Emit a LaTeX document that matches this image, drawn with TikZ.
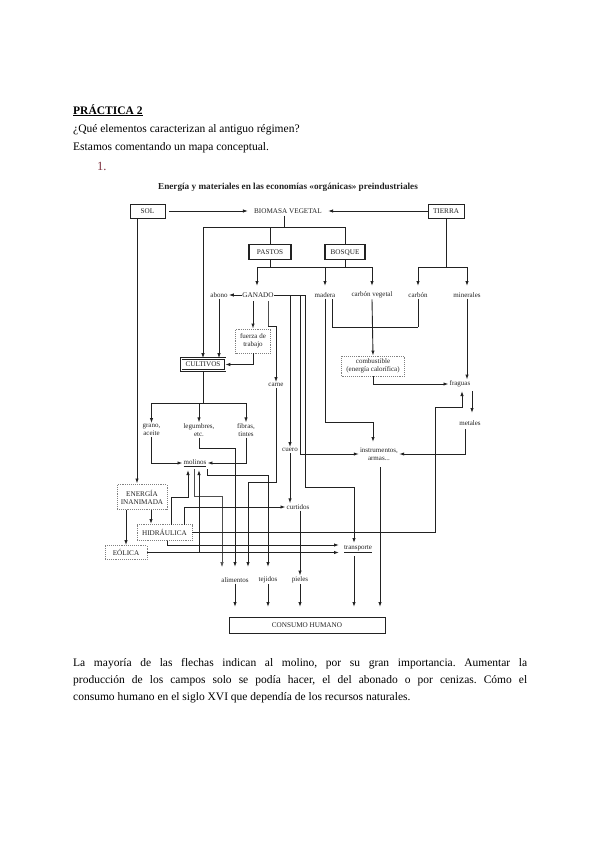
\documentclass[tikz,border=0pt]{standalone}
\usepackage{fontspec}
\setmainfont{Liberation Serif}
\usetikzlibrary{arrows.meta}
\definecolor{numred}{HTML}{7B2D3B}
\definecolor{ink}{HTML}{222222}
\frenchspacing
\begin{document}
\begin{tikzpicture}[x=1pt,y=-1pt,
  body/.style={font=\fontsize{11.5}{13}\selectfont, inner sep=0pt, anchor=base west},
  lbl/.style={font=\fontsize{7}{7.8}\selectfont, inner sep=1pt, align=center, text=ink},
  capl/.style={font=\fontsize{7.2}{8}\selectfont, inner sep=0pt, align=center, text=ink},
  sbox/.style={capl, draw=ink, line width=0.7pt, minimum height=14pt, text height=5pt, text depth=0.6pt},
  tbox/.style={capl, draw=ink, line width=1.4pt, minimum height=15pt, text height=5pt, text depth=0.6pt},
  dbox/.style={capl, draw=gray, line width=0.8pt, dash pattern=on 0.8pt off 1.1pt},
  ln/.style={draw=ink, line width=0.9pt},
  thinl/.style={draw=ink!80, line width=0.5pt},
  arr/.style={ln, -{Latex[length=5pt,width=3.4pt]}},
  tarr/.style={thinl, -{Latex[length=5pt,width=3.4pt]}}
]
\useasboundingbox (0,0) rectangle (600,848);

% ---------- header text ----------
\node[body] (h1) at (73,114) {\underline{\textbf{PRÁCTICA 2}}};
\node[body] (h2) at (73,132) {¿Qué elementos caracterizan al antiguo régimen?};
\node[body] (h3) at (73,150) {Estamos comentando un mapa conceptual.};
\node[body, font=\fontsize{12.5}{14}\selectfont, text=numred] (h4) at (97,170) {1.};

% ---------- diagram title ----------
\node[font=\fontsize{9.2}{10}\bfseries\selectfont, inner sep=0pt, text=ink] (title) at (288,187)
  {Energía y materiales en las economías «orgánicas» preindustriales};

% ---------- nodes ----------
\node[sbox, minimum width=35pt] (sol) at (147.5,211) {SOL};
\node[sbox, minimum width=36pt] (tierra) at (446,211) {TIERRA};
\node[capl] (biomasa) at (288,211) {BIOMASA VEGETAL};
\node[tbox, minimum width=42pt] (pastos) at (270,252) {PASTOS};
\node[tbox, minimum width=40pt] (bosque) at (345,252) {BOSQUE};

\node[lbl] (abono) at (219,295) {abono};
\node[capl] (ganado) at (258,295) {GANADO};
\node[lbl] (madera) at (325,295) {madera};
\node[lbl] (carbveg) at (372,295) {carbón vegetal};
\node[lbl] (carbon) at (418,295) {carbón};
\node[lbl] (minerales) at (467,295) {minerales};

\node[dbox, font=\fontsize{7}{7.8}\selectfont, minimum width=35pt, minimum height=24pt] (fuerza) at (253,341) {fuerza de\\trabajo};
\node[capl, draw=ink, line width=0.6pt, double, double distance=0.9pt, minimum width=44pt, minimum height=12pt, text height=5pt, text depth=0.6pt] (cultivos) at (203,364.5) {CULTIVOS};
\node[lbl] (carne) at (276,385) {carne};
\node[dbox, font=\fontsize{7}{7.8}\selectfont, minimum width=63pt, minimum height=20pt] (combust) at (373,366) {combustible\\(energía calorífica)};
\node[lbl] (fraguas) at (460,384) {fraguas};
\node[lbl] (metales) at (470,423) {metales};

\node[lbl] (grano) at (151.5,430) {grano,\\aceite};
\node[lbl] (legumbres) at (199,430) {legumbres,\\etc.};
\node[lbl] (fibras) at (246,430) {fibras,\\tintes};
\node[lbl] (instr) at (379,454) {instrumentos,\\armas...};
\node[lbl] (cuero) at (290,450) {cuero};
\node[lbl] (molinos) at (195,463) {\underline{molinos}};

\node[dbox, minimum width=50pt, minimum height=25pt] (energia) at (142,497) {ENERGÍA\\INANIMADA};
\node[lbl] (curtidos) at (298,507) {curtidos};
\node[dbox, minimum width=55pt, minimum height=16pt] (hidraulica) at (164.5,532.5) {HIDRÁULICA};
\node[lbl] (transporte) at (358,549) {\underline{transporte}};
\node[dbox, minimum width=42pt, minimum height=14pt] (eolica) at (126,552.5) {EÓLICA};

\node[lbl] (alimentos) at (235,580) {alimentos};
\node[lbl] (tejidos) at (268,580) {tejidos};
\node[lbl] (pieles) at (300,580) {pieles};
\node[sbox, minimum width=156pt, minimum height=16pt] (consumo) at (307,625) {CONSUMO HUMANO};

% ---------- connectors: top ----------
\draw[arr, shorten <=4pt, shorten >=6pt] (sol) -- (biomasa);
\draw[arr, shorten >=6pt] (tierra) -- (biomasa);
\draw[ln] (284,215.5) -- (284,227);
\draw[ln] (203,227) -- (346,227);
\draw[arr] (203,227) -- (cultivos.north);
\draw[ln] (270,227) -- (pastos.north);
\draw[ln] (345,227) -- (bosque.north);
\draw[ln] (pastos.south) -- (270,267);
\draw[ln] (bosque.south) -- (345,267);
\draw[ln] (257,267) -- (372,267);
\draw[arr] (257,267) -- (257,286);
\draw[arr] (325,267) -- (325,286);
\draw[arr] (372,267) -- (372,286);
\draw[ln] (tierra.south) -- (446,267);
\draw[ln] (418,267) -- (467,267);
\draw[arr] (418,267) -- (418,286);
\draw[arr] (467,267) -- (467,286);

% ---------- ganado ----------
\draw[arr] (ganado) -- (abono);
\draw[ln] (ganado.east) -- (305,295);
\draw[arr] (abono.south) -- (abono |- cultivos.north);
\draw[arr] (253,301) -- (fuerza.north);
\draw[thinl] (268,301) -- (268,326);
\draw[arr] (268,326) -- (276,326) -- (carne.north);
\draw[arr] (fuerza.south) |- (cultivos.east);
\draw[arr] (290,295) -- (cuero.north);
\draw[arr] (300,295) |- (instr.west);
\draw[arr] (305,295) -- (305,487) -| (354,543);
\draw[arr] (carne.south) -- (276,482) -| (248,567);

% ---------- wood / coal ----------
\draw[arr] (madera.south) |- (373,422) -- (373,442);
\draw[ln] (332,299) |- (418,327);
\draw[ln] (carbon.south) -- (418,327);
\draw[arr] (carbveg.south) -- (combust.north);
\draw[arr] (combust.south) |- (fraguas.west);
\draw[arr] (minerales.south) -- (minerales |- fraguas.north);
\draw[arr] (472,391) -- (472,413);
\draw[arr] (465,429) |- (instr.east);
\draw[arr] (380,467) -- (380,607);

% ---------- cultivos ----------
\draw[ln] (cultivos.south) -- (203,403);
\draw[ln] (151.5,403) -- (246,403);
\draw[arr] (151.5,403) -- (grano.north);
\draw[arr] (199,403) -- (legumbres.north);
\draw[arr] (246,403) -- (fibras.north);
\draw[arr] (grano.south) |- (molinos.west);
\draw[arr] (fibras.south) |- (molinos.east);
\draw[arr] (legumbres.south) |- (235,448) -- (235,567);

% ---------- molinos ----------
\draw[tarr] (194,469) |- (222,496) -- (222,567);
\draw[arr] (207,469) |- (268,475) -- (268,567);

% ---------- cuero / curtidos ----------
\draw[arr] (cuero.south) -- (cuero |- curtidos.north);
\draw[arr] (pieles |- curtidos.south) -- (pieles.north);

% ---------- energy ----------
\draw[arr] (137,218) -- (137,483.5);
\draw[arr] (151,509.5) -- (151,524);
\draw[arr] (126,509.5) -- (eolica.north);
\draw[arr] (171,524.5) |- (188,497) -- (188,470);
\draw[arr] (184,524.5) |- (curtidos.west);
\draw[arr] (hidraulica.east) -- (435,532.5) |- (462,407) -- (462,391);
\draw[arr] (167,540.5) |- (339,545);
\draw[arr] (eolica.east) -- (339,552.5);
\coordinate (eoljoin) at (199,552.5);
\draw[arr] (eoljoin) -- (199,470);

% ---------- to consumo ----------
\draw[arr] (alimentos.south) -- (235,607);
\draw[arr] (tejidos.south) -- (268,607);
\draw[arr] (pieles.south) -- (300,607);
\draw[arr] (354,556) -- (354,607);

% ---------- bottom paragraph ----------
\node[body] (p1) at (73,666) {\makebox[454pt][s]{La mayoría de las flechas indican al molino, por su gran importancia. Aumentar la}};
\node[body] (p2) at (73,683) {\makebox[454pt][s]{producción de los campos solo se podía hacer, el del abonado o por cenizas. Cómo el}};
\node[body] (p3) at (73,700) {consumo humano en el siglo XVI que dependía de los recursos naturales.};
\end{tikzpicture}
\end{document}
